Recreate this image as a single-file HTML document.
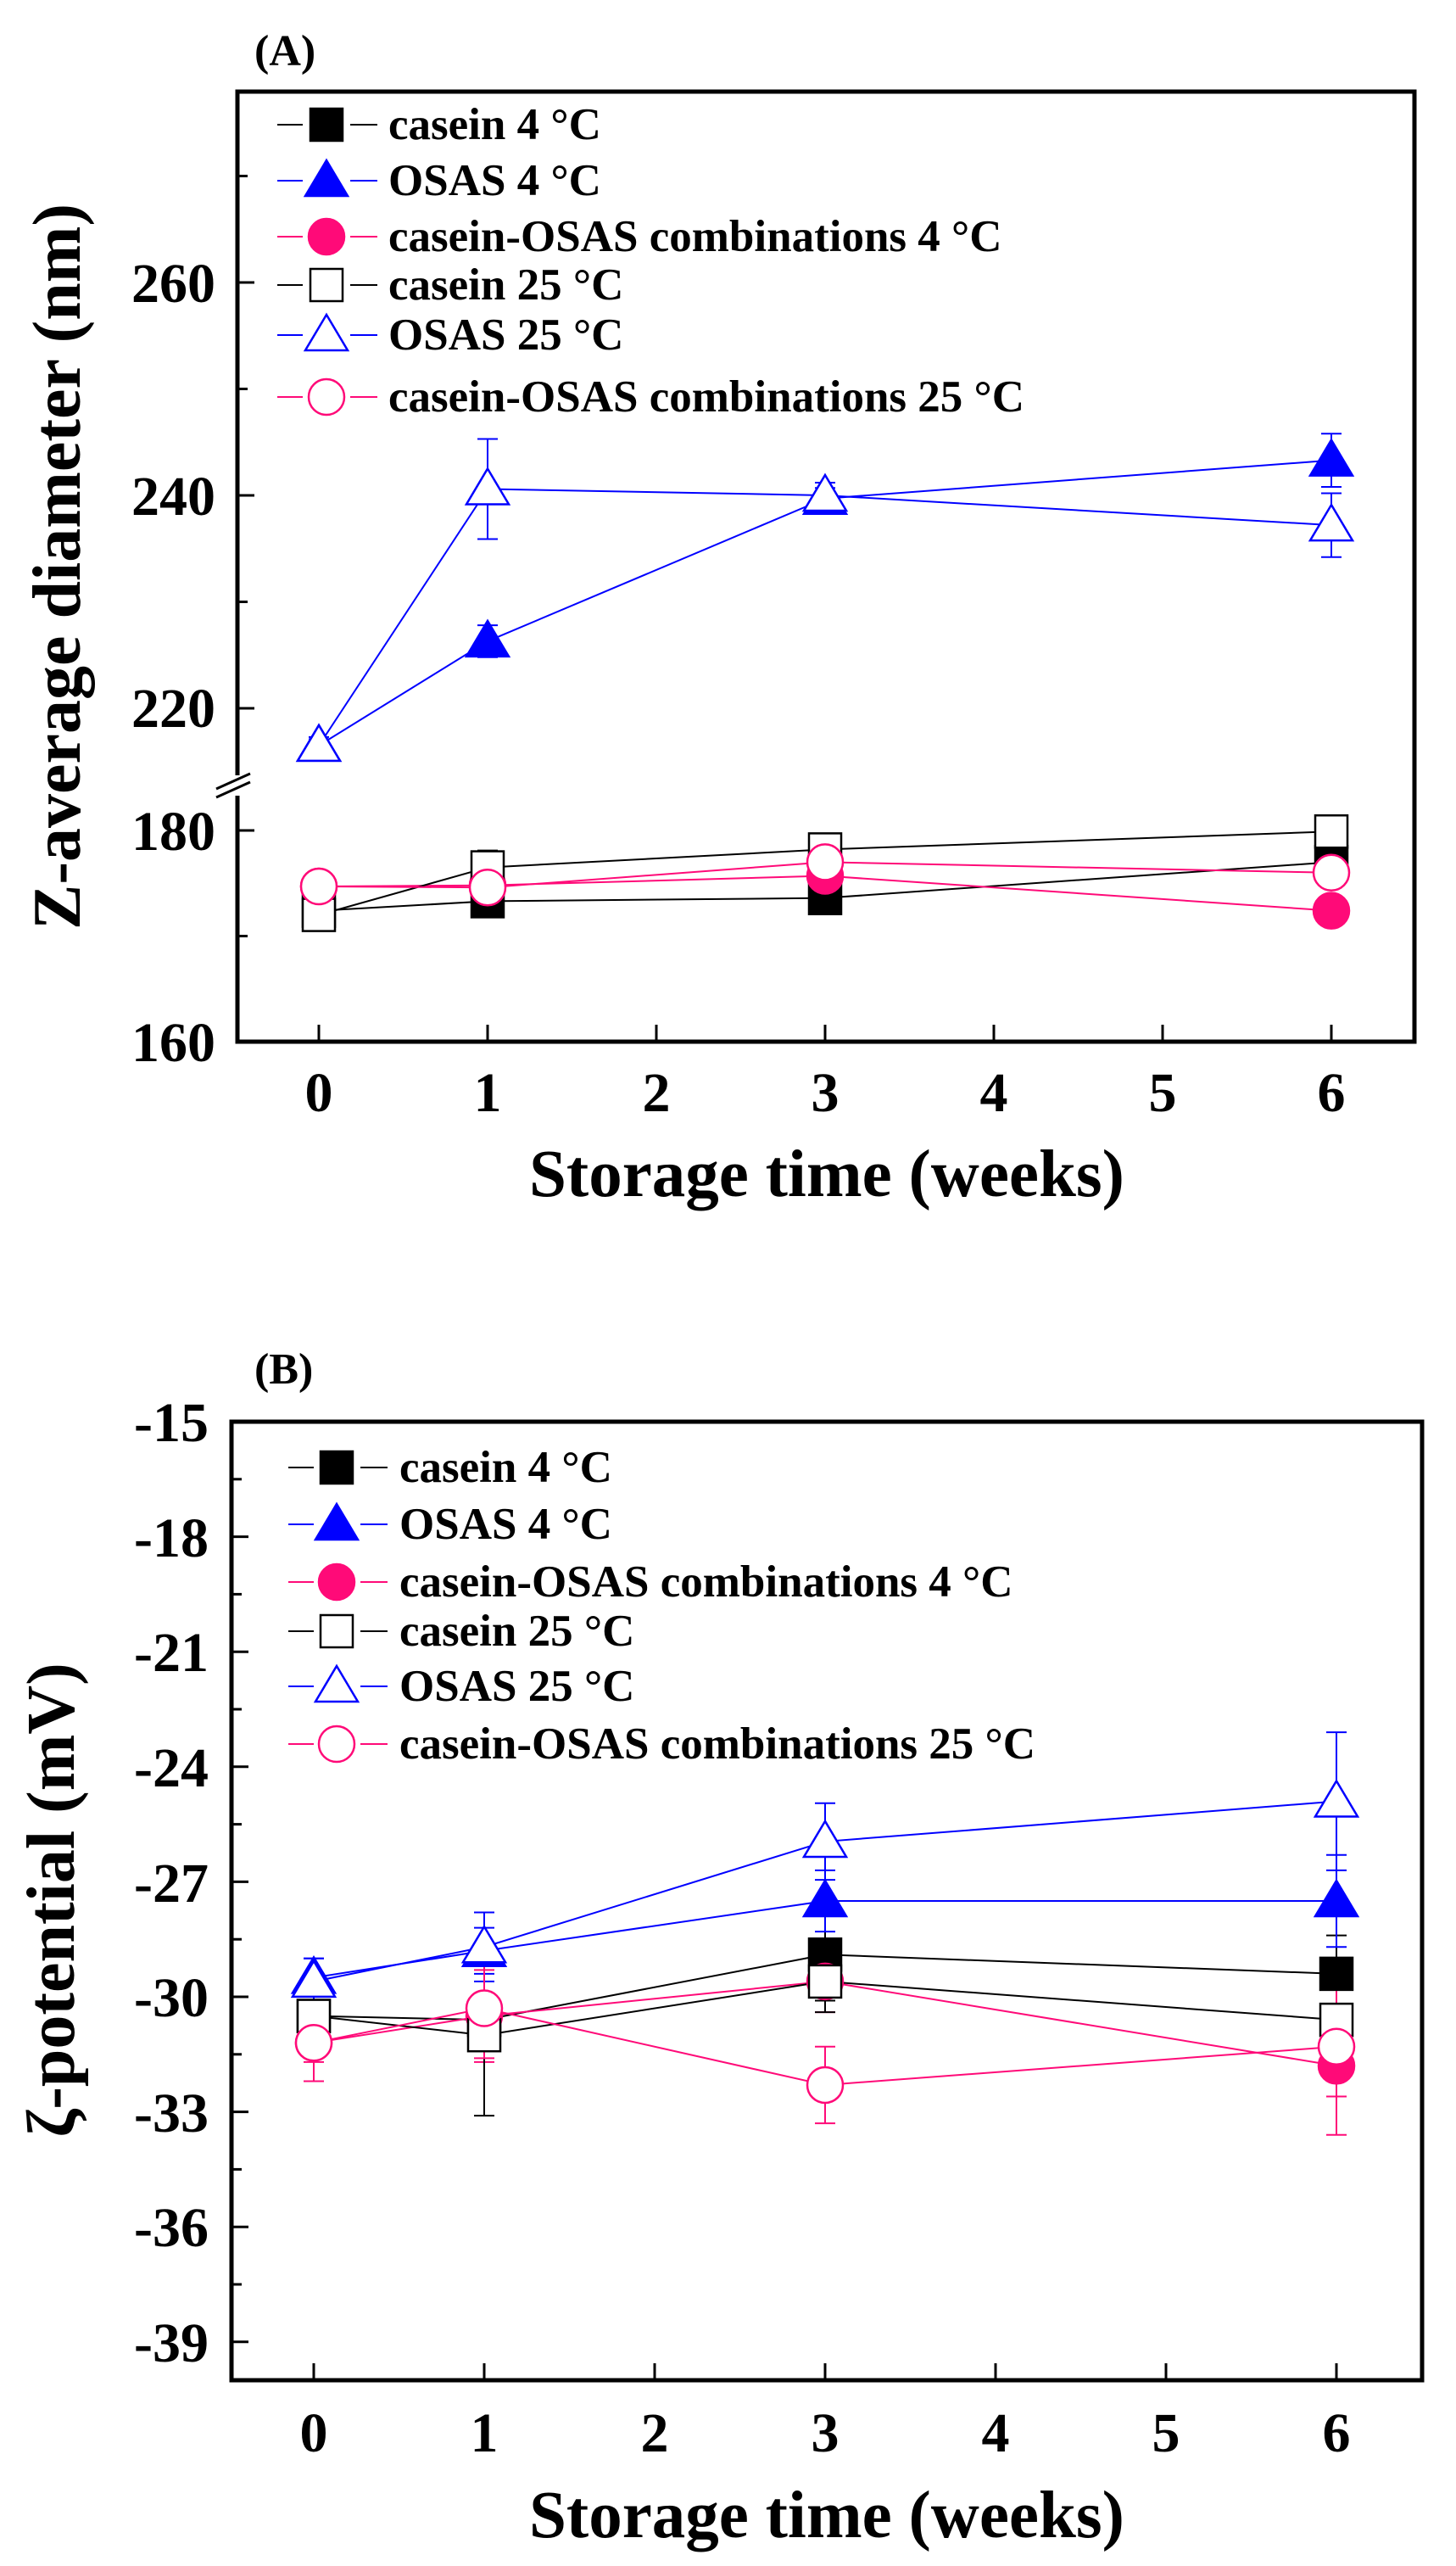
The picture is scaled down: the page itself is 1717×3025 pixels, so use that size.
<!DOCTYPE html>
<html><head><meta charset="utf-8"><style>
html,body{margin:0;padding:0;background:#fff}
svg{display:block}
text{font-family:"Liberation Serif",serif;font-weight:bold;fill:#000}
</style></head><body>
<svg id="s" width="1717" height="3025" viewBox="0 0 1717 3025" xmlns="http://www.w3.org/2000/svg">
<rect width="1717" height="3025" fill="#fff"/>
<!-- Panel A -->
<text x="300" y="77" font-size="52">(A)</text>
<g font-size="66" text-anchor="end">
<text x="254" y="356">260</text><text x="254" y="607">240</text><text x="254" y="857">220</text>
<text x="254" y="1002">180</text><text x="254" y="1251">160</text>
</g>
<g font-size="66" text-anchor="middle">
<text x="376" y="1310">0</text><text x="575" y="1310">1</text><text x="774" y="1310">2</text><text x="973" y="1310">3</text><text x="1172" y="1310">4</text><text x="1371" y="1310">5</text><text x="1570" y="1310">6</text>
</g>
<text x="975" y="1410" font-size="79" text-anchor="middle">Storage time (weeks)</text>
<text transform="translate(94,668) rotate(-90)" font-size="80" text-anchor="middle">Z-average diameter (nm)</text>
<g font-size="53">
<text x="458" y="164">casein 4 °C</text>
<text x="458" y="230">OSAS 4 °C</text>
<text x="458" y="296">casein-OSAS combinations 4 °C</text>
<text x="458" y="353">casein 25 °C</text>
<text x="458" y="412">OSAS 25 °C</text>
<text x="458" y="485">casein-OSAS combinations 25 °C</text>
</g>
<!-- Panel B -->
<text x="300" y="1631" font-size="52">(B)</text>
<g font-size="66" text-anchor="end">
<text x="246" y="1699">-15</text><text x="246" y="1835">-18</text><text x="246" y="1970">-21</text><text x="246" y="2106">-24</text>
<text x="246" y="2242">-27</text><text x="246" y="2377">-30</text><text x="246" y="2513">-33</text><text x="246" y="2648">-36</text><text x="246" y="2784">-39</text>
</g>
<g font-size="66" text-anchor="middle">
<text x="370" y="2890">0</text><text x="571" y="2890">1</text><text x="772" y="2890">2</text><text x="973" y="2890">3</text><text x="1174" y="2890">4</text><text x="1375" y="2890">5</text><text x="1576" y="2890">6</text>
</g>
<text x="975" y="2991" font-size="79" text-anchor="middle">Storage time (weeks)</text>
<text transform="translate(87,2240) rotate(-90)" font-size="80" text-anchor="middle">ζ-potential (mV)</text>
<g font-size="53">
<text x="471" y="1747">casein 4 °C</text>
<text x="471" y="1814">OSAS 4 °C</text>
<text x="471" y="1882">casein-OSAS combinations 4 °C</text>
<text x="471" y="1940">casein 25 °C</text>
<text x="471" y="2005">OSAS 25 °C</text>
<text x="471" y="2073">casein-OSAS combinations 25 °C</text>
</g>
<g id="g"></g>
</svg>
<script>
var g=document.getElementById('g'),h='';
function L(x1,y1,x2,y2,c,w){h+='<line x1="'+x1+'" y1="'+y1+'" x2="'+x2+'" y2="'+y2+'" stroke="'+c+'" stroke-width="'+(w||2)+'"/>';}
var BL='#000',BU='#0000ff',PK='#ff0a78';
function M(t,x,y,c,f){var fill=f?c:'#fff';
 if(t=='s')h+='<rect x="'+(x-19)+'" y="'+(y-19)+'" width="38" height="38" fill="'+fill+'" stroke="'+c+'" stroke-width="2.5"/>';
 else if(t=='t')h+='<polygon points="'+x+','+(y-24)+' '+(x+25)+','+(y+18)+' '+(x-25)+','+(y+18)+'" fill="'+fill+'" stroke="'+c+'" stroke-width="2.5"/>';
 else h+='<circle cx="'+x+'" cy="'+y+'" r="21" fill="'+fill+'" stroke="'+c+'" stroke-width="2.5"/>';}
function EB(x,y1,y2,c){L(x,y1,x,y2,c,2);L(x-12,y1,x+12,y1,c,2);L(x-12,y2,x+12,y2,c,2);}
function frame(l,t,r,b){h+='<rect x="'+l+'" y="'+t+'" width="'+(r-l)+'" height="'+(b-t)+'" fill="none" stroke="#000" stroke-width="5"/>';}
function xA(w){return 376+199*w;}
function yA(v){return v>=200?333-(v-260)*12.55:979-(v-180)*12.45;}
var W=[0,1,3,6];
var A=[
 ['s',BL,1,[172.4,173.3,173.6,177],[1,0.6,0.9,1.2]],
 ['t',BU,1,[216.5,226.3,239.7,243.3],[0.6,1.5,1,2.5]],
 ['c',PK,1,[174.7,174.8,175.7,172.4],[0.5,0.5,0.8,1.2]],
 ['s',BL,0,[172,176.5,178.2,179.9],[0.8,1.6,1,1.2]],
 ['t',BU,0,[216.5,240.6,240,237.2],[0.8,4.7,1.2,3]],
 ['c',PK,0,[174.7,174.6,177,176],[0.6,0.6,0.8,1.2]]];
frame(280,108,1668,1228);
for(var w=0;w<=6;w++)L(xA(w),1228,xA(w),1208,'#000',3);
[[260,1],[240,1],[220,1],[270,0],[250,0],[230,0],[180,1],[170,0]].forEach(function(t){L(280,yA(t[0]),280+(t[1]?20:12),yA(t[0]),'#000',3);});
h+='<rect x="268" y="914" width="30" height="24" fill="#fff"/>';
L(255,930,295,912,'#000',3);L(255,940,295,922,'#000',3);
A.forEach(function(s){for(var i=0;i<3;i++)L(xA(W[i]),yA(s[3][i]),xA(W[i+1]),yA(s[3][i+1]),s[1],2);});
A.forEach(function(s){for(var i=0;i<4;i++){var v=s[3][i],e=s[4][i];EB(xA(W[i]),yA(v+e),yA(v-e),s[1]);}});
A.forEach(function(s){for(var i=0;i<4;i++)M(s[0],xA(W[i]),yA(s[3][i]),s[1],s[2]);});
var ly=[147,213,279,336,395,468];
A.forEach(function(s,i){L(327,ly[i],357,ly[i],s[1],2);L(413,ly[i],445,ly[i],s[1],2);M(s[0],385,ly[i],s[1],s[2]);});
function xB(w){return 370+201*w;}
function yB(v){return 1676+(-15-v)*45.2;}
var B=[
 ['s',BL,1,[-30.5,-30.6,-28.9,-29.4],[0.4,0.4,1.2,1]],
 ['t',BU,1,[-29.5,-28.8,-27.5,-27.5],[0.5,0.6,0.8,1.2]],
 ['c',PK,1,[-31.2,-30.5,-29.6,-31.8],[0.5,1.2,0.8,0.8]],
 ['s',BL,0,[-30.5,-31.0,-29.6,-30.6],[0.5,2.1,0.8,0.8]],
 ['t',BU,0,[-29.6,-28.7,-25.95,-24.9],[0.6,0.9,1.0,1.8]],
 ['c',PK,0,[-31.2,-30.3,-32.3,-31.3],[1.0,1.3,1.0,2.3]]];
frame(273,1676,1677,2806);
for(var w=0;w<=6;w++)L(xB(w),2806,xB(w),2786,'#000',3);
for(var v=-16.5;v>=-40;v-=1.5){var maj=Math.abs(v%3)<0.01;L(273,yB(v),273+(maj?20:12),yB(v),'#000',3);}
B.forEach(function(s){for(var i=0;i<3;i++)L(xB(W[i]),yB(s[3][i]),xB(W[i+1]),yB(s[3][i+1]),s[1],2);});
B.forEach(function(s){for(var i=0;i<4;i++){var v=s[3][i],e=s[4][i];EB(xB(W[i]),yB(v+e),yB(v-e),s[1]);}});
B.forEach(function(s){for(var i=0;i<4;i++)M(s[0],xB(W[i]),yB(s[3][i]),s[1],s[2]);});
var lb=[1730,1797,1865,1923,1988,2056];
B.forEach(function(s,i){L(340,lb[i],370,lb[i],s[1],2);L(425,lb[i],457,lb[i],s[1],2);M(s[0],397,lb[i],s[1],s[2]);});
g.innerHTML=h;
</script>
</body></html>
